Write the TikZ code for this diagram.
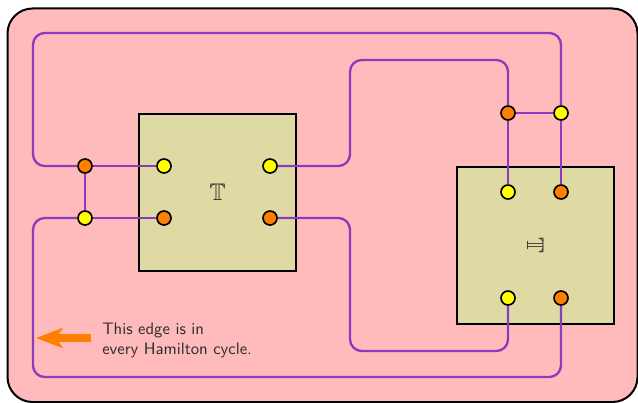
\documentclass[tikz,border=0pt]{standalone}
\usetikzlibrary{arrows.meta,positioning,calc}
\usepackage{amssymb}
\definecolor{Slide}{HTML}{FFBBBB}
\definecolor{Gadget}{HTML}{DFD9A3}
\definecolor{Wire}{HTML}{8A3CBE}
\definecolor{Hot}{HTML}{FF8000}
\definecolor{Cold}{HTML}{FFFF00}
\definecolor{Ink}{HTML}{2B2B2B}

\begin{document}
\begin{tikzpicture}[x=0.6pt,y=-0.6pt,>=Stealth,
  gadget/.style={draw=black,fill=Gadget,line width=1.2pt,minimum size=94.2pt,inner sep=0pt,text=Ink,font=\Large},
  vtx/.style={circle,draw=black,line width=1pt,minimum size=8.4pt,inner sep=0pt},
  hot/.style={vtx,fill=Hot},
  cold/.style={vtx,fill=Cold},
  wire/.style={Wire,line width=1.4pt,rounded corners=7pt}]
\useasboundingbox (0,0) rectangle (638,402);
\draw[fill=Slide,line width=1.2pt,rounded corners=15pt] (7.5,8.5) rectangle (637.5,402);
\node[gadget] (boxT) at (217.5,192) {$\mathbb{T}$};
\node[gadget,rotate=-90] (boxU) at (535.5,245) {$\mathbb{T}$};
\node[hot] (a1) at (85,166) {};
\node[cold] (a2) at (85,218) {};
\node[cold] (t1) at (164,166) {};
\node[cold] (t2) at (270,166) {};
\node[hot] (t3) at (164,218) {};
\node[hot] (t4) at (270,218) {};
\node[hot] (r1) at (508,113) {};
\node[cold] (r2) at (561,113) {};
\node[cold] (u1) at (508,192) {};
\node[hot] (u2) at (561,192) {};
\node[cold] (u3) at (508,298) {};
\node[hot] (u4) at (561,298) {};
\coordinate (tl) at (33,33);
\coordinate (bl) at (33,377);
\coordinate (mt) at (350,60);
\coordinate (mb) at (350,351);
\draw[wire] (a1) -| (tl) -| (r2);
\draw[wire] (a1) -- (t1);
\draw[wire] (a1) -- (a2);
\draw[wire] (a2) -- (t3);
\draw[wire] (a2) -| (bl) -| (u4);
\draw[wire] (t2) -| (mt) -| (r1);
\draw[wire] (r1) -- (r2);
\draw[wire] (r1) -- (u1);
\draw[wire] (r2) -- (u2);
\draw[wire] (t4) -| (mb) -| (u3);
\coordinate (tail) at (91,338);
\coordinate (tip) at (36,338);
\draw[Hot,line width=4.8pt,-{Stealth[length=16pt,width=12pt,inset=4pt]}] (tail) -- (tip);
\node[anchor=west,align=left,inner sep=0pt,font=\sffamily,text=Ink] (note) at (102,340) {This edge is in\\every Hamilton cycle.};
\end{tikzpicture}
\end{document}
